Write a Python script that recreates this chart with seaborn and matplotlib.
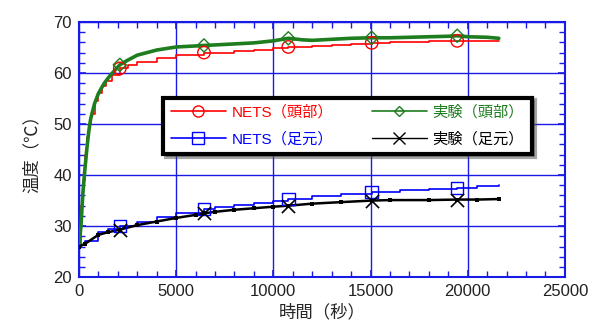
import numpy as np
import pandas as pd
import seaborn as sns
import matplotlib
matplotlib.use("Agg")
import matplotlib.pyplot as plt
from matplotlib.lines import Line2D
from matplotlib.ticker import MultipleLocator

# NETS (head) - red step line
nets_head_t = [0, 100, 200, 300, 400, 500, 600, 800, 1000, 1200, 1400, 1700, 2100, 2500,
               3000, 4000, 5000, 6430, 8000, 9000, 10000, 10770, 12000, 13000, 14000, 15060,
               16000, 17000, 18000, 19460, 20500, 21600]
nets_head_v = [26.0, 34.0, 39.0, 44.0, 47.5, 50.0, 52.0, 54.5, 56.0, 57.5, 58.5, 59.7, 60.9,
               61.5, 62.1, 62.9, 63.5, 64.0, 64.4, 64.6, 64.9, 65.1, 65.3, 65.5, 65.7, 65.9,
               66.0, 66.1, 66.2, 66.3, 66.3, 66.3]

# experiment (head) - green
exp_head_t = [0, 100, 200, 300, 400, 500, 600, 800, 1000, 1300, 1600, 2100, 2500, 3000, 3500,
              4000, 5000, 6000, 6430, 7000, 8000, 9000, 10000, 10770, 11500, 12000, 13000,
              14000, 15060, 16000, 17000, 18000, 19000, 19460, 20000, 21000, 21600]
exp_head_v = [26.0, 30.0, 36.5, 41.0, 45.0, 48.5, 51.0, 54.0, 56.0, 58.0, 59.5, 61.6, 62.5,
              63.5, 64.0, 64.5, 65.1, 65.3, 65.4, 65.5, 65.7, 65.9, 66.3, 66.8, 66.5, 66.4,
              66.6, 66.8, 66.9, 66.9, 67.0, 67.1, 67.2, 67.3, 67.1, 67.0, 66.8]

# NETS (foot) - blue step line
nets_foot_t = [0, 300, 1000, 1500, 2100, 3000, 4000, 5000, 6430, 7000, 8000, 9000, 10000,
               10770, 12000, 13500, 15060, 16500, 18000, 19460, 20500, 21600]
nets_foot_v = [26.3, 27.0, 28.9, 29.4, 30.0, 30.9, 31.7, 32.5, 33.4, 33.7, 34.1, 34.6, 35.0,
               35.3, 35.9, 36.3, 36.7, 37.0, 37.3, 37.5, 37.8, 38.1]

# experiment (foot) - black
exp_foot_t = [0, 300, 1000, 1500, 2100, 3000, 4000, 5000, 6000, 6430, 7000, 8000, 9000,
              10000, 10770, 12000, 13500, 15060, 16000, 18000, 19460, 20500, 21600]
exp_foot_v = [26.0, 26.5, 28.3, 28.8, 29.3, 30.2, 30.9, 31.6, 32.2, 32.5, 32.8, 33.2, 33.5,
              33.8, 34.0, 34.4, 34.7, 35.0, 35.1, 35.1, 35.2, 35.2, 35.3]

marker_t = [2100, 6430, 10770, 15060, 19460]

labels = ["NETS（頭部）", "NETS（足元）", "実験（頭部）", "実験（足元）"]
colors = ["#ff0000", "#0000ff", "#1e7d1e", "#000000"]

sns.set_style("ticks")
plt.rcParams['font.family'] = ['Liberation Sans', 'Noto Sans CJK JP']

fig = plt.figure(figsize=(5.94, 3.23), dpi=100)
ax = fig.add_axes([0.133, 0.142, 0.818, 0.79])

series = [
    (nets_head_t, nets_head_v, colors[0], "o", 1.2, "steps-post"),
    (nets_foot_t, nets_foot_v, colors[1], "s", 1.2, "steps-post"),
    (exp_head_t, exp_head_v, colors[2], "D", 2.6, "default"),
    (exp_foot_t, exp_foot_v, colors[3], "x", 1.8, "default"),
]

for t, v, c, m, lw, ds in series:
    df = pd.DataFrame({"t": t, "v": v})
    sns.lineplot(data=df, x="t", y="v", ax=ax, color=c, lw=lw, drawstyle=ds,
                 legend=False, zorder=3)
    sub = df[df["t"].isin(marker_t)]
    if m == "x":
        sns.scatterplot(data=sub, x="t", y="v", ax=ax, color=c, marker="x", s=90,
                        linewidth=1.2, legend=False, zorder=4)
    else:
        sns.scatterplot(data=sub, x="t", y="v", ax=ax, facecolor="none", edgecolor=c,
                        marker=m, s=80 if m != "D" else 45, linewidth=1.0,
                        legend=False, zorder=4)

# small filled dots along the measured foot curve
dots = pd.DataFrame({"t": exp_foot_t, "v": exp_foot_v})
sns.scatterplot(data=dots, x="t", y="v", ax=ax, color="black", marker="s", s=12,
                linewidth=0, legend=False, zorder=4)

ax.set_xlim(0, 25000)
ax.set_ylim(20, 70)
ax.xaxis.set_major_locator(MultipleLocator(5000))
ax.xaxis.set_minor_locator(MultipleLocator(1000))
ax.yaxis.set_major_locator(MultipleLocator(10))
ax.yaxis.set_minor_locator(MultipleLocator(2))
ax.grid(True, which="major", color="#1a1ae6", lw=1.0, zorder=1)
for sp in ax.spines.values():
    sp.set_color("#1a1ae6")
    sp.set_linewidth(1.5)
ax.tick_params(which="both", direction="in", color="#1a1ae6", top=True, right=True,
               labelsize=12, labelcolor="#222222")
ax.tick_params(which="major", length=5, width=1.2, pad=5)
ax.tick_params(which="minor", length=4, width=1.0)

ax.set_xlabel("時間（秒）", fontsize=12.5, labelpad=3)
ax.set_ylabel("温度（℃）", fontsize=12.5, labelpad=10)

handles = [Line2D([], [], color=colors[0], lw=1.2, marker="o", mfc="none", ms=8),
           Line2D([], [], color=colors[1], lw=1.2, marker="s", mfc="none", ms=8),
           Line2D([], [], color=colors[2], lw=1.2, marker="D", mfc="none", ms=5),
           Line2D([], [], color=colors[3], lw=1.0, marker="x", ms=9)]
leg = ax.legend(handles, labels, ncol=2, loc="lower left",
                bbox_to_anchor=(0.173, 0.482, 0.759, 0.259), mode="expand",
                fontsize=11, frameon=True, fancybox=False, shadow=True,
                handlelength=3.6, labelcolor="linecolor", borderaxespad=0,
                handletextpad=0.4, columnspacing=2.0, labelspacing=0.8,
                borderpad=0.5)
leg.get_frame().set_edgecolor("black")
leg.get_frame().set_linewidth(3)
leg.set_zorder(5)

fig.savefig("out.png", dpi=100)
